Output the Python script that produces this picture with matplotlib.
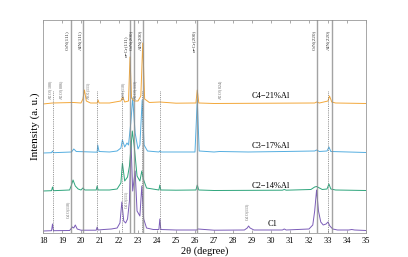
import matplotlib
matplotlib.use("Agg")
import matplotlib.pyplot as plt

plt.rcParams['font.family'] = ['Liberation Serif', 'DejaVu Serif']
plt.rcParams['mathtext.fontset'] = 'stix'

# spectra: 2theta and intensity above own baseline (a.u.)
c1_x = [18.0, 18.45, 18.5, 18.55, 19.4, 19.55, 19.62, 19.7, 19.8, 20.0, 20.8, 20.85, 20.9,
        21.2, 21.6, 21.9, 22.05, 22.15, 22.25, 22.35, 22.45, 22.55, 22.63, 22.72, 22.85,
        22.95, 23.1, 23.2, 23.3, 23.45, 23.8, 24.1, 24.15, 24.2, 25.0, 26.1, 26.15, 27.0,
        28.6, 28.75, 28.82, 28.9, 29.1, 30.6, 30.7, 30.8, 32.0, 32.2, 32.3, 32.4, 32.5,
        32.62, 32.75, 32.9, 33.0, 33.1, 33.25, 33.5, 34.1, 34.25, 34.4, 35.0]
c1_y = [0, 0.3, 7, 0.3, 0.5, 4, 3, 6, 2, 0.8, 0.8, 4, 1,
        1.5, 2, 3, 8, 29, 10, 8, 12, 30, 90, 40, 60,
        20, 15, 45, 12, 3, 1.5, 1.5, 12, 1.5, 1, 1, 2, 0.8,
        1, 3, 5, 3, 1, 1, 2, 1, 2, 6, 20, 41, 20,
        9, 6, 7, 9, 5, 2, 1, 1, 1.5, 1, 0.5]

c2_x = [18.0, 18.45, 18.5, 18.55, 19.4, 19.5, 19.58, 19.7, 19.85, 20.0, 20.1, 20.2, 20.8,
        20.85, 20.9, 21.5, 21.9, 22.1, 22.18, 22.3, 22.45, 22.55, 22.7, 22.8, 22.95, 23.1,
        23.2, 23.28, 23.45, 24.1, 24.15, 24.2, 25.0, 26.05, 26.12, 26.2, 27.0, 30.6, 30.7,
        30.8, 32.1, 32.3, 32.4, 32.5, 32.7, 32.95, 33.05, 33.15, 33.4, 35.0]
c2_y = [0, 0.3, 4, 0.3, 1, 6, 11, 5, 2, 1, 3, 1, 1,
        5, 1, 1, 2, 8, 28, 10, 14, 25, 60, 45, 15, 10,
        20, 12, 3, 1, 6, 1, 0.8, 1, 6, 1, 0.5, 0.8, 1.5,
        0.8, 1.5, 4, 4.5, 3.5, 1.5, 2, 7, 2, 1, 0.5]

c3_x = [18.0, 18.45, 18.5, 18.55, 19.5, 19.62, 19.75, 20.85, 20.88, 20.95, 21.5, 21.9,
        22.1, 22.18, 22.3, 22.42, 22.5, 22.62, 22.72, 22.85, 23.0, 23.1, 23.22, 23.32,
        23.5, 24.1, 24.15, 24.2, 25.0, 26.0, 26.12, 26.22, 27.0, 27.3, 28.8, 30.7, 32.3,
        32.4, 32.55, 32.95, 33.05, 33.15, 35.0]
c3_y = [0, 0.3, 2, 0.3, 1, 4, 1.5, 0.8, 8, 1.5, 1, 2,
        5, 13, 6, 10, 8, 30, 55, 20, 4, 8, 53, 8,
        2, 1, 2, 1, 1, 1, 53, 2, 1, 1.5, 1, 1.5, 2,
        3, 1.5, 2, 6, 1.5, 0.5]

c4_x = [18.0, 18.5, 19.6, 20.0, 20.1, 20.18, 20.28, 20.5, 20.85, 20.9, 20.95, 21.5, 22.1,
        22.2, 22.3, 22.5, 22.58, 22.66, 22.8, 23.0, 23.15, 23.25, 23.35, 23.6, 24.15, 25.0,
        26.05, 26.12, 26.2, 27.0, 32.3, 32.4, 32.55, 33.0, 33.08, 33.2, 33.4, 35.0]
c4_y = [0, 1, 1.5, 1, 5, 14, 3, 1, 1, 4, 1, 1, 3,
        7, 2, 3, 47, 6, 3, 3, 8, 61, 5, 1.5, 2, 0.8,
        1, 14, 1, 0.5, 1, 2, 1, 3, 8, 2, 1, 0.5]

series_names = ["C1", "C2\u221214%Al", "C3\u221217%Al", "C4\u221221%Al"]
series_offsets = [2, 42, 80, 129]
series_colors = ["#7b5cb8", "#2ea57c", "#55aee0", "#f3a83b"]

# reference lines
solid_pos = [19.47, 20.12, 22.56, 22.77, 23.28, 26.12, 32.4, 33.2]
solid_labels = ["CrN(111)", "AlN(111)", "\u03b1\u2212Cr(111)", "CrN(200)", "AlN(200)",
                "\u03b1\u2212Cr(200)", "CrN(220)", "AlN(220)"]
solid_label_top = [203, 203, 197, 203, 203, 203, 203, 203]
dotted_pos = [18.5, 20.85, 22.18, 23.2, 24.15, 33.02]

oxide_pos = [18.45, 19.0, 20.45, 22.25, 22.9, 27.35]
oxide_labels = ["Al$_2$O$_3$(100)", "Al$_2$O$_3$(006)", "AlO$_2$(111)", "CrO$_2$(110)",
                "Al$_2$O$_3$(113)", "Al$_2$O$_3$(024)"]
c1_oxide_pos = [19.35, 22.4, 28.8]
c1_oxide_y = [14, 24, 12]
c1_oxide_labels = ["Cr$_2$O(110)", "Cr$_2$O(111)", "Cr$_2$O(113)"]

fig = plt.figure(figsize=(4.08, 2.57), dpi=100)
ax = fig.add_axes([0.1054, 0.0934, 0.7916, 0.8288])

for xs, ys, off, col in zip([c1_x, c2_x, c3_x, c4_x], [c1_y, c2_y, c3_y, c4_y],
                            series_offsets, series_colors):
    ax.plot(xs, [v + off for v in ys], color=col, lw=0.7, zorder=2)

# gray marker lines sit over the spectra, slightly see-through
for p in solid_pos:
    ax.axvline(p, color="#8c8c8c", lw=1.0, alpha=0.8, zorder=3)
for p in dotted_pos:
    ax.plot([p, p], [0, 143], color="#777777", lw=0.6, ls=(0, (1, 1.2)), zorder=3)

# labels hug the left side of their line; the two crowded ones sit tighter
for p, t, top in zip(solid_pos, solid_labels, solid_label_top):
    gap = 0.02 if t.startswith("CrN(2") else 0.09
    ax.text(p - gap, top, t, rotation=90, ha="right", va="top", fontsize=3.7,
            color="#333333")
for p, t in zip(oxide_pos, oxide_labels):
    ax.text(p, 133, t, rotation=90, ha="center", va="bottom", fontsize=2.8,
            color="#555555")
for p, yy, t in zip(c1_oxide_pos, c1_oxide_y, c1_oxide_labels):
    ax.text(p, yy, t, rotation=90, ha="center", va="bottom", fontsize=2.8,
            color="#555555")

ax.text(29.0, 133, series_names[3], fontsize=6, va="bottom", ha="left")
ax.text(29.0, 83, series_names[2], fontsize=6, va="bottom", ha="left")
ax.text(29.0, 43, series_names[1], fontsize=6, va="bottom", ha="left")
ax.text(30.1, 5, series_names[0], fontsize=6, va="bottom", ha="center")

ax.set_xlim(18, 35)
ax.set_ylim(0, 213)
ax.set_xticks(range(18, 36))
ax.set_yticks([])
ax.tick_params(axis="x", direction="in", top=True, length=2.5, width=0.5,
               labelsize=6, color="#888888", pad=3)
for s in ax.spines.values():
    s.set_color("#999999")
    s.set_linewidth(0.6)
ax.set_xlabel("2\u03b8 (degree)", fontsize=7.5, labelpad=1)
ax.set_ylabel("Intensity (a. u.)", fontsize=8, labelpad=2)

fig.savefig("out.png", dpi=100)
